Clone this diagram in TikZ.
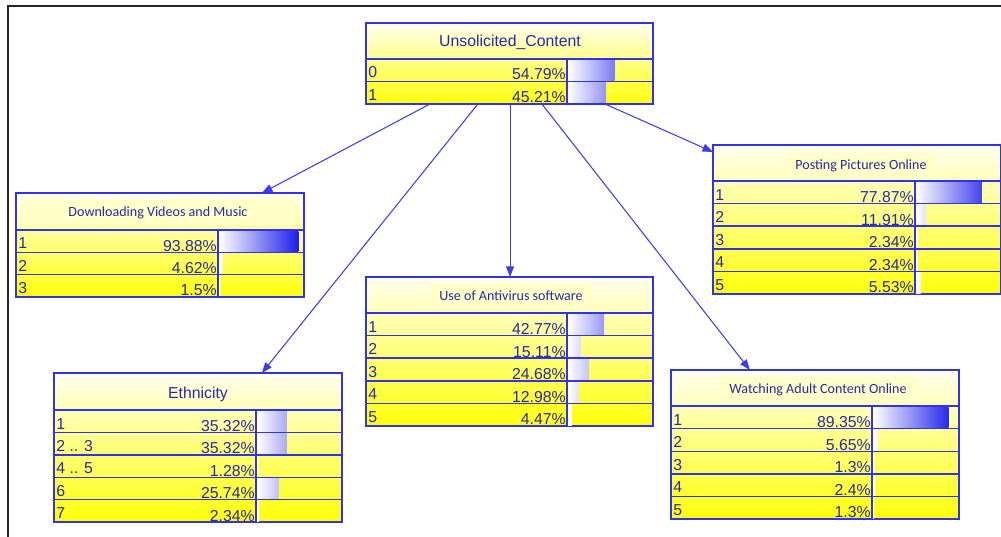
\documentclass[tikz,border=0pt]{standalone}
\usepackage{fontspec}
\setmainfont{Liberation Sans}
\newfontfamily\carlito{Carlito}
\usepackage{xcolor}
\usetikzlibrary{calc, positioning, arrows.meta}

\definecolor{cptblue}{RGB}{50,50,230}
\definecolor{txtblue}{RGB}{40,40,170}
\definecolor{linkblue}{RGB}{60,60,240}
\definecolor{barblue}{RGB}{15,15,235}
\definecolor{cpttop}{RGB}{255,255,238}
\definecolor{cptbot}{RGB}{255,255,10}
\definecolor{titlebg}{RGB}{255,255,200}

\tikzset{
  cpt/.style={draw=cptblue, line width=0.9pt, top color=cpttop, bottom color=cptbot, inner sep=0pt, outer sep=0pt, anchor=north west},
  cptline/.style={draw=cptblue, line width=0.8pt},
  lab/.style={anchor=base west, inner sep=0pt, text=txtblue, font=\fontsize{9}{10}\selectfont},
  pct/.style={anchor=base east, inner sep=0pt, text=txtblue, font=\fontsize{9}{10}\selectfont},
  ttl/.style={inner sep=0pt, text=txtblue, font=\fontsize{9}{10}\selectfont},
  subttl/.style={inner sep=0pt, text=txtblue, font=\carlito\fontsize{8}{9}\selectfont},
  link/.style={draw=linkblue, line width=0.6pt, -{Triangle[length=6pt,width=4.5pt]}},
  frame/.style={draw=black!85, line width=1.2pt}
}

\begin{document}
\begin{tikzpicture}[x=0.02cm, y=-0.02cm]
  \useasboundingbox (0,0) rectangle (1001,537);
  \draw[frame] (8,545) -- (8,6) -- (1010,6);

  % Unsolicited_Content
  \node[cpt, minimum width=5.74cm, minimum height=1.62cm] (uc) at (366,23) {};
  \node[ttl] (uc-t) at (510,42) {Unsolicited\_Content};
  \foreach \lab/\p [count=\i from 0] in {0/54.79, 1/45.21}{
    \pgfmathsetmacro\yt{59+\i*22.5}
    \shade[left color=white, right color=barblue!\p!white] (568,\yt+1) rectangle ++(\p*0.845,20.5);
    \draw[cptline] (366,\yt) -- ++(287,0);
    \node[lab] (uc-l\i) at (368,\yt+19) {\lab};
    \node[pct] (uc-p\i) at (566,\yt+21) {\p\%};
  }
  \draw[cptline] (567,59) -- (567,104);

  % Downloading Videos and Music
  \node[cpt, minimum width=5.76cm, minimum height=2.08cm] (dvm) at (16,193) {};
  \fill[titlebg] (21,200) rectangle (295,225);
  \node[subttl] (dvm-t) at (158,213) {Downloading Videos and Music};
  \foreach \lab/\p [count=\i from 0] in {1/93.88, 2/4.62, 3/1.5}{
    \pgfmathsetmacro\yt{230+\i*22.3}
    \shade[left color=white, right color=barblue!\p!white] (219,\yt+1) rectangle ++(\p*0.845,20.3);
    \draw[cptline] (16,\yt) -- ++(288,0);
    \node[lab] (dvm-l\i) at (18,\yt+18.8) {\lab};
    \node[pct] (dvm-p\i) at (217,\yt+21) {\p\%};
  }
  \draw[cptline] (218,230) -- (218,297);

  % Use of Antivirus software
  \node[cpt, minimum width=5.74cm, minimum height=2.98cm] (av) at (366,277) {};
  \fill[titlebg] (430,284) rectangle (593,308);
  \node[subttl] (av-t) at (511,296) {Use of Antivirus software};
  \foreach \lab/\p [count=\i from 0] in {1/42.77, 2/15.11, 3/24.68, 4/12.98, 5/4.47}{
    \pgfmathsetmacro\yt{313+\i*22.6}
    \shade[left color=white, right color=barblue!\p!white] (568,\yt+1) rectangle ++(\p*0.845,20.6);
    \draw[cptline] (366,\yt) -- ++(287,0);
    \node[lab] (av-l\i) at (368,\yt+19) {\lab};
    \node[pct] (av-p\i) at (566,\yt+21.5) {\p\%};
  }
  \draw[cptline] (567,313) -- (567,426);

  % Ethnicity
  \node[cpt, minimum width=5.76cm, minimum height=2.98cm] (eth) at (54,373) {};
  \node[ttl] (eth-t) at (198,394) {Ethnicity};
  \foreach \lab/\p [count=\i from 0] in {1/35.32, 2 .. 3/35.32, 4 .. 5/1.28, 6/25.74, 7/2.34}{
    \pgfmathsetmacro\yt{410+\i*22.4}
    \shade[left color=white, right color=barblue!\p!white] (257,\yt+1) rectangle ++(\p*0.845,20.4);
    \draw[cptline] (54,\yt) -- ++(288,0);
    \node[lab] (eth-l\i) at (56,\yt+19) {\lab};
    \node[pct] (eth-p\i) at (255,\yt+21.5) {\p\%};
  }
  \draw[cptline] (256,410) -- (256,522);

  % Posting Pictures Online
  \node[cpt, minimum width=5.76cm, minimum height=2.98cm] (pp) at (713,145) {};
  \fill[titlebg] (787,153) rectangle (936,178);
  \node[subttl] (pp-t) at (861,166) {Posting Pictures Online};
  \foreach \lab/\p [count=\i from 0] in {1/77.87, 2/11.91, 3/2.34, 4/2.34, 5/5.53}{
    \pgfmathsetmacro\yt{181+\i*22.6}
    \shade[left color=white, right color=barblue!\p!white] (916,\yt+1) rectangle ++(\p*0.845,20.6);
    \draw[cptline] (713,\yt) -- ++(288,0);
    \node[lab] (pp-l\i) at (715,\yt+19) {\lab};
    \node[pct] (pp-p\i) at (914,\yt+21.5) {\p\%};
  }
  \draw[cptline] (915,181) -- (915,294);

  % Watching Adult Content Online
  \node[cpt, minimum width=5.76cm, minimum height=2.98cm] (wac) at (671,370) {};
  \fill[titlebg] (720,377) rectangle (917,402);
  \node[subttl] (wac-t) at (818,390) {Watching Adult Content Online};
  \foreach \lab/\p [count=\i from 0] in {1/89.35, 2/5.65, 3/1.3, 4/2.4, 5/1.3}{
    \pgfmathsetmacro\yt{406+\i*22.6}
    \shade[left color=white, right color=barblue!\p!white] (873,\yt+1) rectangle ++(\p*0.845,20.6);
    \draw[cptline] (671,\yt) -- ++(288,0);
    \node[lab] (wac-l\i) at (673,\yt+19) {\lab};
    \node[pct] (wac-p\i) at (871,\yt+21.5) {\p\%};
  }
  \draw[cptline] (872,406) -- (872,519);

  % links
  \draw[link] ($(uc.south west)!.223!(uc.south east)$) -- ($(dvm.north west)!.854!(dvm.north east)$);
  \draw[link] ($(uc.south west)!.39!(uc.south east)$) -- ($(eth.north west)!.722!(eth.north east)$);
  \draw[link] ($(uc.south west)!.502!(uc.south east)$) -- ($(av.north west)!.502!(av.north east)$);
  \draw[link] ($(uc.south west)!.613!(uc.south east)$) -- ($(wac.north west)!.274!(wac.north east)$);
  \draw[link] ($(uc.south west)!.833!(uc.south east)$) -- ($(pp.north west)+(0,7)$);
\end{tikzpicture}
\end{document}
